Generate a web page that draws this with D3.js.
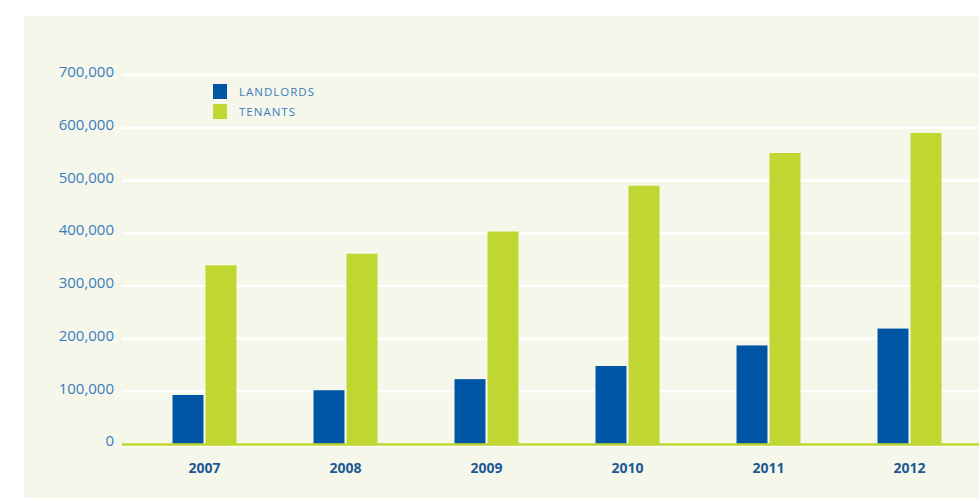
<!DOCTYPE html>
<html>
<head>
<meta charset="utf-8">
<script src="https://cdn.jsdelivr.net/npm/d3@7"></script>
<style>
  html, body { margin: 0; padding: 0; background: #ffffff; }
  svg { display: block; }
</style>
</head>
<body>
<svg id="chart" width="979" height="498"></svg>
<script>
// ---- data ----
const years = ["2007", "2008", "2009", "2010", "2011", "2012"];
const landlords = [93000, 102000, 123000, 148000, 187000, 219000];
const tenants = [339000, 361000, 403000, 490000, 552000, 590000];
const seriesNames = ["LANDLORDS", "TENANTS"];
const yTicks = [0, 100000, 200000, 300000, 400000, 500000, 600000, 700000];

// ---- styling / layout ----
const W = 979, H = 498;
const colors = { LANDLORDS: "#0056a4", TENANTS: "#bfd730" };
const bg = "#f5f7ea";
const labelColor = "#3b7cc0";
const yearColor = "#1d5796";
const font = "'Open Sans', 'Noto Sans', sans-serif";

const svg = d3.select("#chart");

// panel background
svg.append("rect").attr("x", 24).attr("y", 16).attr("width", W - 24).attr("height", H - 16).attr("fill", bg);

const y = d3.scaleLinear().domain([0, 700000]).range([444, 75]);
const x0 = d3.scaleBand().domain(years).range([134, 980]).padding(0);
const x1 = d3.scaleBand().domain(seriesNames).range([-32, 32]).paddingInner(0.03);

// gridlines
svg.append("g").selectAll("line").data(yTicks.filter(d => d > 0)).join("line")
  .attr("x1", 122).attr("x2", W)
  .attr("y1", d => y(d)).attr("y2", d => y(d))
  .attr("stroke", "#ffffff").attr("stroke-width", 2.4);

// y axis labels
const fmt = d3.format(",");
svg.append("g").selectAll("text").data(yTicks).join("text")
  .attr("x", 114).attr("y", d => y(d) - 3)
  .attr("dy", "0.35em")
  .attr("text-anchor", "end")
  .attr("font-family", font).attr("font-size", 15)
  .attr("fill", labelColor)
  .text(d => fmt(d));

// faint white line under baseline
svg.append("line").attr("x1", 122).attr("x2", W).attr("y1", 446.5).attr("y2", 446.5)
  .attr("stroke", "#ffffff").attr("stroke-width", 1);

// bars
const rows = years.map((yr, i) => ({ year: yr, vals: [
  { key: "LANDLORDS", value: landlords[i] },
  { key: "TENANTS", value: tenants[i] }
]}));

const groups = svg.append("g").selectAll("g").data(rows).join("g")
  .attr("transform", d => `translate(${x0(d.year) + x0.bandwidth() / 2},0)`);

// white separator behind bars
groups.append("rect")
  .attr("x", d => x1("LANDLORDS"))
  .attr("y", d => y(d.vals[0].value))
  .attr("width", x1("TENANTS") + 0.5 - x1("LANDLORDS"))
  .attr("height", d => y(0) - y(d.vals[0].value))
  .attr("fill", "#ffffff");

groups.selectAll("rect.bar").data(d => d.vals).join("rect")
  .attr("class", "bar")
  .attr("x", d => x1(d.key) + (d.key === "TENANTS" ? 0.5 : 0))
  .attr("y", d => y(d.value))
  .attr("width", x1.bandwidth() - 0.5)
  .attr("height", d => y(0) - y(d.value) + (d.key === "TENANTS" ? 1 : 0))
  .attr("fill", d => colors[d.key]);

// baseline
svg.append("line").attr("x1", 122).attr("x2", W).attr("y1", y(0) + 0.5).attr("y2", y(0) + 0.5)
  .attr("stroke", colors.TENANTS).attr("stroke-width", 2.4);

// x labels
svg.append("g").selectAll("text").data(years).join("text")
  .attr("x", d => x0(d) + x0.bandwidth() / 2)
  .attr("y", 468).attr("dy", "0.35em")
  .attr("text-anchor", "middle")
  .attr("font-family", font).attr("font-size", 14).attr("font-weight", "bold")
  .attr("fill", yearColor)
  .text(d => d);

// legend
const legend = svg.append("g").selectAll("g").data(seriesNames).join("g")
  .attr("transform", (d, i) => `translate(213,${84 + i * 20})`);
legend.append("rect").attr("width", 14).attr("height", 15).attr("fill", d => colors[d]);
legend.append("text").attr("x", 26).attr("y", 7.5).attr("dy", "0.35em")
  .attr("font-family", font).attr("font-size", 11.5).attr("letter-spacing", 1)
  .attr("fill", labelColor)
  .text(d => d);
</script>
</body>
</html>
